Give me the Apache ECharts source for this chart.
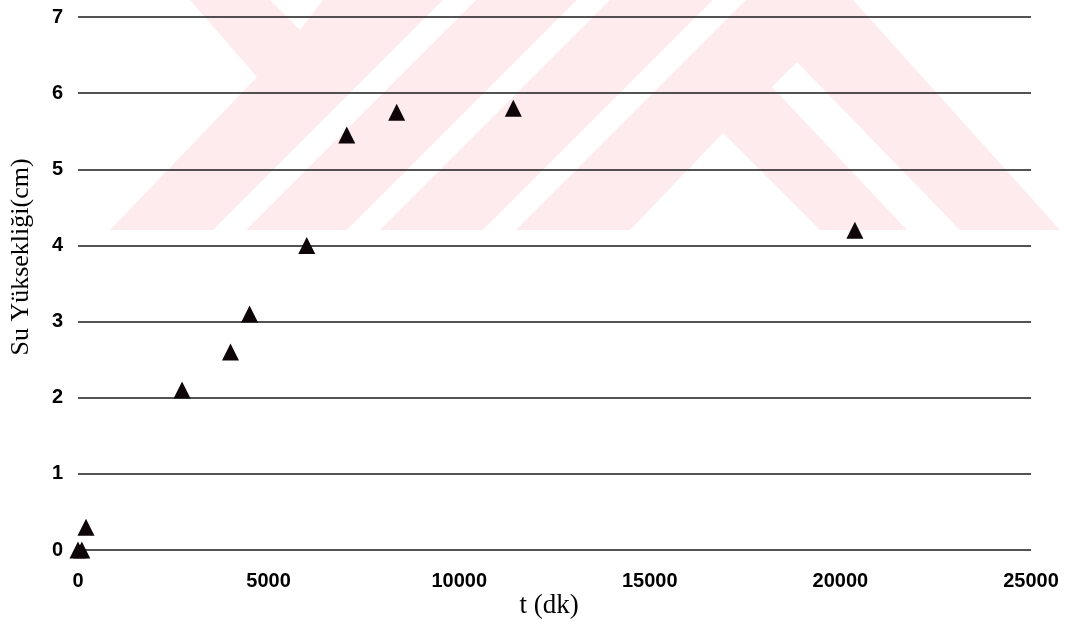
<!DOCTYPE html>
<html>
<head>
<meta charset="utf-8">
<script src="https://cdn.jsdelivr.net/npm/echarts@6/dist/echarts.min.js"></script>
<style>
html,body{margin:0;padding:0;background:#fff;}
#chart{width:1072px;height:639px;}
</style>
</head>
<body>
<div id="chart"></div>
<script>
// Data
var timeMin = [0, 100, 210, 2730, 4000, 4500, 6000, 7050, 8360, 11420, 20380];
var waterHeight = [0, 0, 0.30, 2.10, 2.60, 3.10, 4.00, 5.45, 5.75, 5.80, 4.20];
var xTicks = [0, 5000, 10000, 15000, 20000, 25000];
var yTicks = [0, 1, 2, 3, 4, 5, 6, 7];
var yTitle = 'Su Yüksekliği(cm)';
var xTitle = 't (dk)';

var points = timeMin.map(function (t, i) { return [t, waterHeight[i]]; });

// background watermark decoration (not data)
var pink = '#fdebee';
function poly(pts, fill, z) {
  return { type: 'polygon', z: z, silent: true, shape: { points: pts }, style: { fill: fill } };
}
var watermark = [
  poly([[190,0],[853,0],[1060,230],[110,230],[257,77]], pink, -10),
  poly([[270,0],[323,0],[300,30]], '#fff', -9),
  poly([[443,0],[476,0],[246,230],[213,230]], '#fff', -9),
  poly([[577,0],[610,0],[380,230],[347,230]], '#fff', -9),
  poly([[713,0],[746,0],[516,230],[483,230]], '#fff', -9),
  poly([[630,230],[723,133],[820,230]], '#fff', -9),
  poly([[772,87],[797,62],[960,230],[907,230]], '#fff', -9)
];

var labelFont = '"Liberation Sans", Arial, sans-serif';

var chart = echarts.init(document.getElementById('chart'), null, { renderer: 'canvas' });
chart.setOption({
  backgroundColor: '#fff',
  animation: false,
  grid: { left: 78, right: 41, top: 17, bottom: 89, containLabel: false },
  graphic: watermark.concat([
    {
      type: 'text', z: 5, x: 21, y: 257, rotation: Math.PI / 2,
      style: { text: yTitle, font: '26px "Liberation Serif", "Times New Roman", serif', fill: '#000', textAlign: 'center', textVerticalAlign: 'middle' }
    },
    {
      type: 'text', z: 5, x: 549, y: 606,
      style: { text: xTitle, font: '27px "Liberation Serif", "Times New Roman", serif', fill: '#000', textAlign: 'center', textVerticalAlign: 'middle' }
    }
  ]),
  xAxis: {
    type: 'value',
    min: xTicks[0], max: xTicks[xTicks.length - 1], interval: xTicks[1] - xTicks[0],
    axisLine: { show: false },
    axisTick: { show: false },
    splitLine: { show: false },
    axisLabel: {
      margin: 21, color: '#000', fontSize: 20, fontWeight: 'bold', fontFamily: labelFont,
      formatter: function (v) { return String(v); }
    }
  },
  yAxis: {
    type: 'value',
    min: yTicks[0], max: yTicks[yTicks.length - 1], interval: yTicks[1] - yTicks[0],
    axisLine: { show: false },
    axisTick: { show: false },
    splitLine: { show: true, lineStyle: { color: '#1a1a1a', width: 1.6 } },
    axisLabel: {
      margin: 15, color: '#000', fontSize: 20, fontWeight: 'bold', fontFamily: labelFont,
      formatter: function (v) { return String(v); }
    }
  },
  series: [{
    type: 'scatter',
    data: points,
    symbol: 'triangle',
    symbolSize: 17,
    itemStyle: { color: '#0d0508', opacity: 1 },
    emphasis: { disabled: true },
    z: 3
  }]
});
</script>
</body>
</html>
